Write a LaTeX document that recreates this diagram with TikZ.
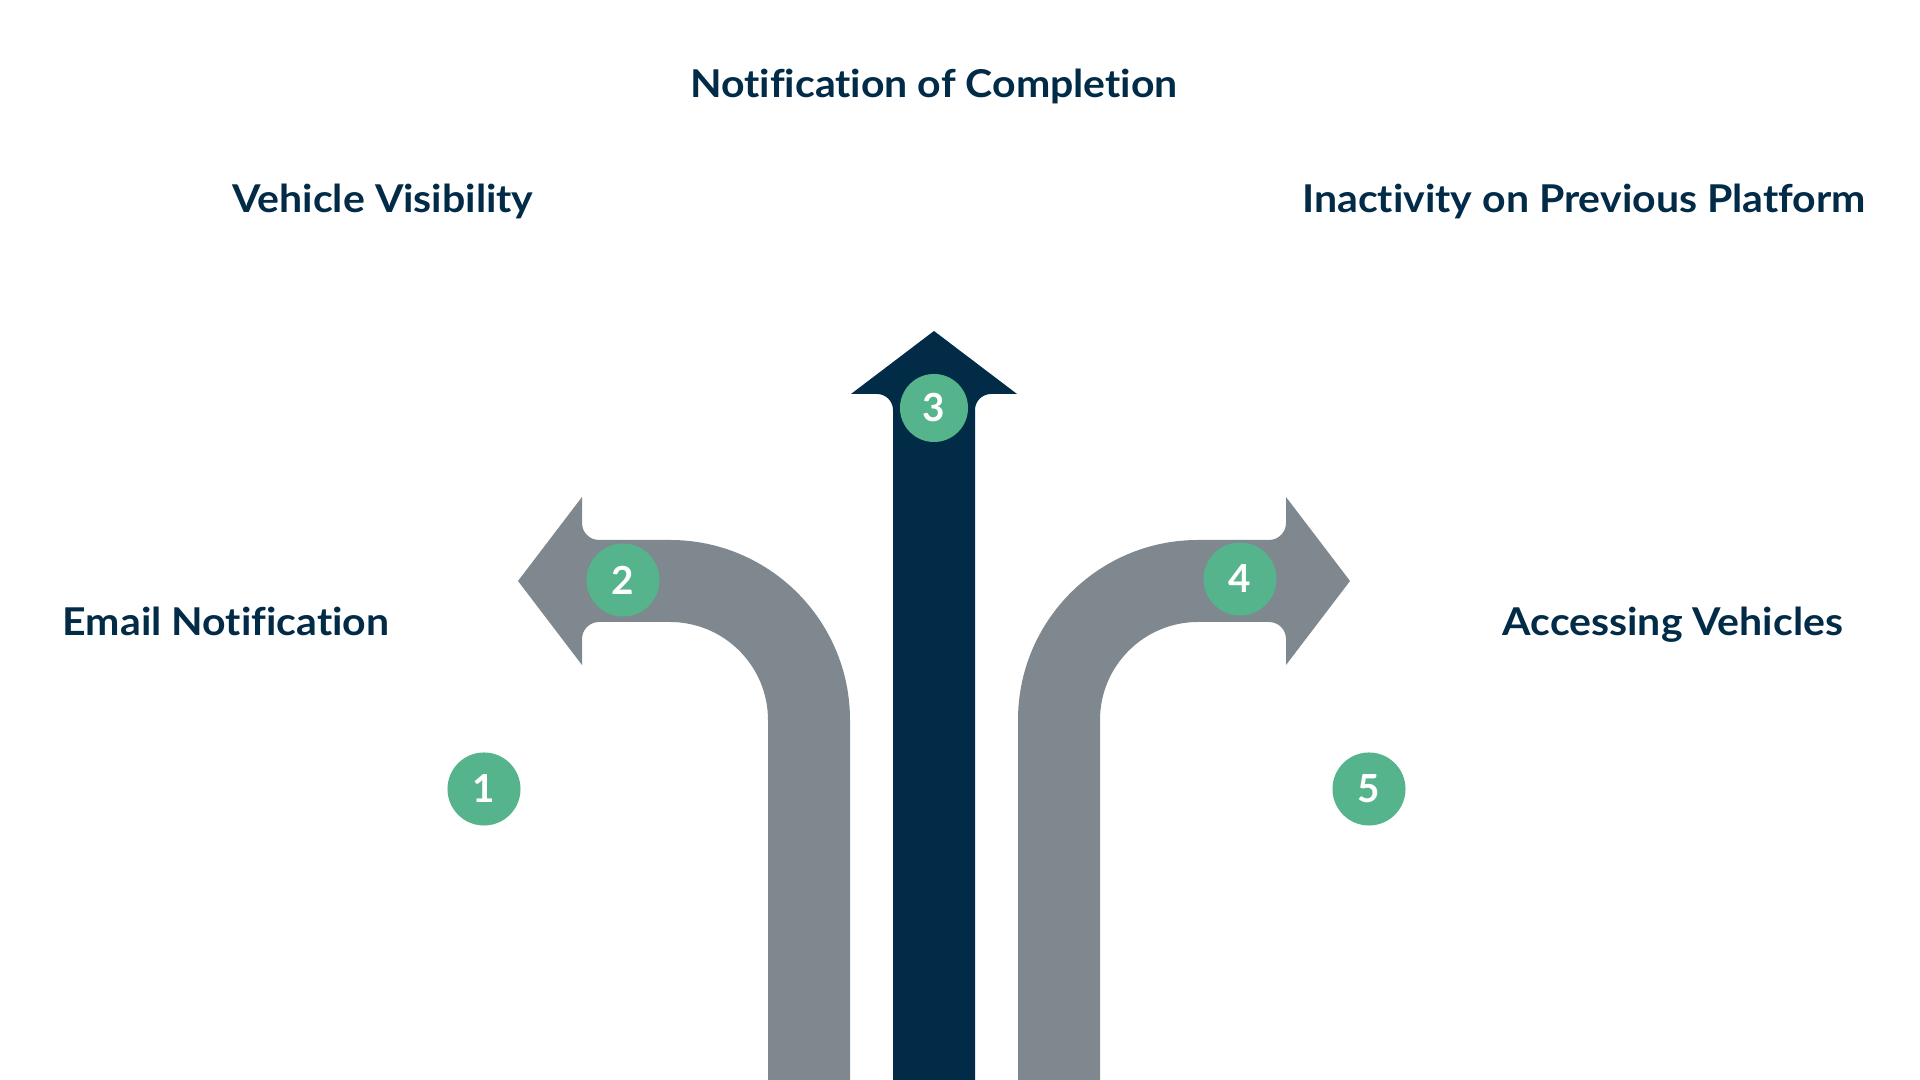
\documentclass[tikz,border=0pt]{standalone}
\usepackage{fontspec}
\setmainfont{Lato}[Ligatures={NoCommon,NoRare}, RawFeature={-liga;-dlig}]
\newfontfamily\lblfont{Lato}[Ligatures={NoCommon,NoRare}, RawFeature={-liga;-dlig}, FakeStretch=1.07]
\definecolor{arrowgray}{HTML}{7E888E}
\definecolor{navy}{HTML}{022B48}
\definecolor{badgegreen}{HTML}{55B48C}
\begin{document}
\begin{tikzpicture}[x=0.01cm,y=-0.01cm,
  lbl/.style={font=\lblfont\fontsize{10.9}{13}\selectfont\bfseries, text=navy, anchor=base, inner sep=0pt},
  badge/.style={circle, fill=badgegreen, text=white, minimum size=0.73cm, inner sep=0pt, font=\fontsize{11}{13}\selectfont\bfseries}]
\fill[white] (0,0) rectangle (1920,1080);
\useasboundingbox (0,0) rectangle (1920,1080);
% left arrow
\fill[arrowgray] (768,1080) -- (768,720) .. controls (768,665.9) and (724.1,622) .. (670,622) -- (599,622) .. controls (589.6,622) and (582,629.6) .. (582,639) -- (582,665) -- (518,581) -- (582,497) -- (582,523) .. controls (582,532.4) and (589.6,540) .. (599,540) -- (670,540) .. controls (769.4,540) and (850,620.6) .. (850,720) -- (850,1080) -- cycle;
% right arrow
\fill[arrowgray] (1100,1080) -- (1100,720) .. controls (1100,665.9) and (1143.9,622) .. (1198,622) -- (1269,622) .. controls (1278.4,622) and (1286,629.6) .. (1286,639) -- (1286,665) -- (1350,581) -- (1286,497) -- (1286,523) .. controls (1286,532.4) and (1278.4,540) .. (1269,540) -- (1198,540) .. controls (1098.6,540) and (1018,620.6) .. (1018,720) -- (1018,1080) -- cycle;
% center arrow
\fill[navy] (893,1080) -- (893,410) .. controls (893,401.2) and (885.8,394) .. (877,394) -- (851,394) -- (934,331) -- (1017,394) -- (991,394) .. controls (982.2,394) and (975,401.2) .. (975,410) -- (975,1080) -- cycle;
% badges
\node[badge] (b1) at (484,789) {1};
\node[badge] (b2) at (623,580) {2};
\node[badge, minimum size=0.68cm] (b3) at (934,408) {3};
\node[badge] (b4) at (1240,579) {4};
\node[badge] (b5) at (1369,789) {5};
% labels
\node[lbl] (t3) at (934,98) {Notification of Completion};
\node[lbl] (t2) at (383,213) {Vehicle Visibility};
\node[lbl] (t4) at (1584,213) {Inactivity on Previous Platform};
\node[lbl] (t1) at (226,636) {Email Notification};
\node[lbl] (t5) at (1673,636) {Accessing Vehicles};
\end{tikzpicture}
\end{document}
